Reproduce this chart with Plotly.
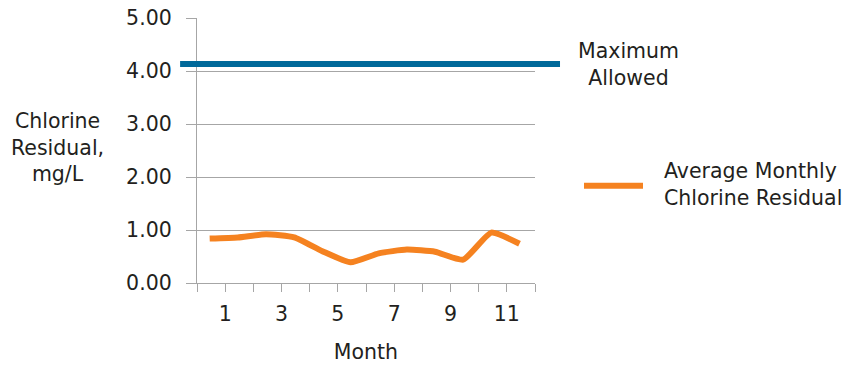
import plotly.graph_objects as go

months = [1, 2, 3, 4, 5, 6, 7, 8, 9, 10, 11, 12]
avg_chlorine = [0.84, 0.86, 0.92, 0.86, 0.60, 0.39, 0.56, 0.63, 0.59, 0.44, 0.95, 0.74]
max_allowed = 4.13
y_ticks = [0, 1, 2, 3, 4, 5]
x_tick_labels = ["1", "3", "5", "7", "9", "11"]

FONT = "DejaVu Sans"
TXT = "#231f20"
GRID = "#a6a6a6"
ORANGE = "#f58220"
BLUE = "#00699a"
FS = 20.5

fig = go.Figure()
fig.add_trace(go.Scatter(
    x=[m - 0.55 for m in months], y=avg_chlorine, mode="lines",
    line=dict(color=ORANGE, width=6, shape="spline", smoothing=0.5),
    showlegend=False, hoverinfo="skip", cliponaxis=False,
))

x_tickvals = list(range(0, 13))
x_ticktext = [str(v) if str(v) in x_tick_labels else "" for v in x_tickvals]

fig.update_layout(
    width=845, height=366,
    margin=dict(l=197, r=310, t=18, b=83),
    paper_bgcolor="white", plot_bgcolor="white",
    font=dict(family=FONT, size=FS, color=TXT),
    xaxis=dict(
        range=[0, 12], tickvals=x_tickvals, ticktext=x_ticktext, automargin=False,
        showgrid=False, zeroline=False, showline=True, linecolor=GRID, linewidth=1.3,
        ticks="outside", ticklen=8, tickcolor=GRID, tickwidth=1.3,
        ticklabelstandoff=4,
        title=dict(text="Month", standoff=19, font=dict(size=FS)),
    ),
    yaxis=dict(
        range=[0, 5], tickvals=y_ticks, tickformat=".2f", automargin=False,
        showgrid=True, gridcolor=GRID, gridwidth=1.3, zeroline=False,
        showline=True, linecolor=GRID, linewidth=1.3,
        ticks="outside", ticklen=10, tickcolor=GRID, tickwidth=1.3,
        ticklabelstandoff=10,
    ),
)

# Maximum allowed line
fig.add_shape(type="line", xref="paper", yref="y", x0=-0.05, x1=1.074,
              y0=max_allowed, y1=max_allowed, line=dict(color=BLUE, width=6))
fig.add_annotation(xref="paper", yref="y", x=1.278, y=max_allowed, text="Maximum<br>Allowed",
                   showarrow=False, xanchor="center", yanchor="middle", align="center",
                   font=dict(size=FS, color=TXT))

# Legend for orange series
fig.add_shape(type="line", xref="paper", yref="paper", x0=(584 - 197) / 338, x1=(643 - 197) / 338,
              y0=(283 - 185.7) / 265, y1=(283 - 185.7) / 265, line=dict(color=ORANGE, width=6))
fig.add_annotation(xref="paper", yref="paper", x=(662 - 197) / 338, y=(283 - 184) / 265,
                   text="Average Monthly<br>Chlorine Residual", showarrow=False,
                   xanchor="left", yanchor="middle", align="left", font=dict(size=FS, color=TXT))

# Y axis title
fig.add_annotation(xref="paper", yref="paper", x=(57 - 197) / 338, y=(283 - 147) / 265,
                   text="Chlorine<br>Residual,<br>mg/L", showarrow=False,
                   xanchor="center", yanchor="middle", align="center", font=dict(size=FS, color=TXT))

fig.write_html("out.html")
